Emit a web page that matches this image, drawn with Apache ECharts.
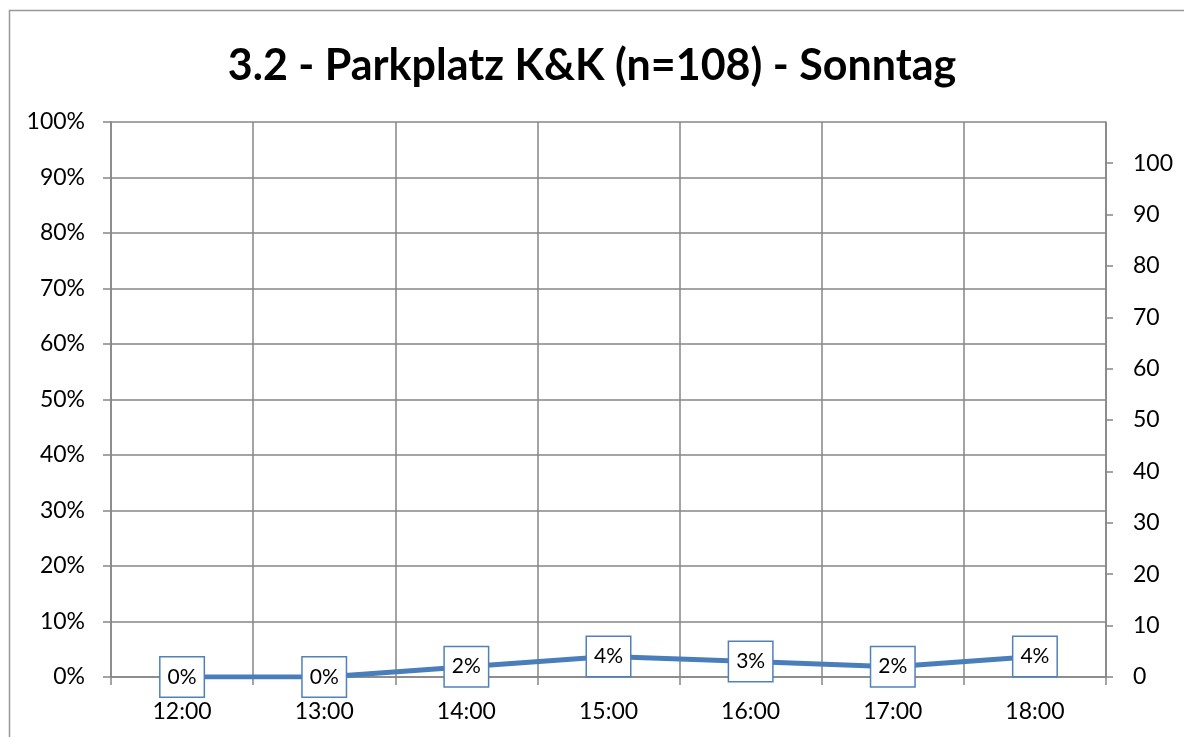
<!DOCTYPE html>
<html>
<head>
<meta charset="utf-8">
<script src="https://cdn.jsdelivr.net/npm/echarts@6/dist/echarts.min.js"></script>
<style>
  html, body { margin: 0; padding: 0; background: #fff; }
  #chart { width: 1184px; height: 737px; }
</style>
</head>
<body>
<div id="chart"></div>
<script>
// Daten
var hours = ['12:00', '13:00', '14:00', '15:00', '16:00', '17:00', '18:00'];
var counts = [0, 0, 2, 4, 3, 2, 4];   // belegte Plätze, n = 108
var total = 108;
var rightTicks = [0, 10, 20, 30, 40, 50, 60, 70, 80, 90, 100];

var gridColor = '#868686';
var font = 'Lato, "Open Sans", sans-serif';

var myChart = echarts.init(document.getElementById('chart'));

var option = {
    animation: false,
    title: {
        text: '3.2 - Parkplatz K&K (n=108) - Sonntag',
        left: 'center',
        top: 40,
        textStyle: { fontFamily: font, fontSize: 43, fontWeight: 'bold', color: '#000' }
    },
    graphic: [{
        type: 'rect',
        shape: { x: 9.5, y: 10.5, width: 1200, height: 760 },
        style: { fill: 'none', stroke: '#999', lineWidth: 1.5 },
        silent: true
    }],
    grid: { left: 111, right: 78, top: 122, bottom: 60 },
    xAxis: {
        type: 'category',
        data: hours,
        boundaryGap: true,
        axisLine: { lineStyle: { color: gridColor, width: 1.5 } },
        axisTick: { show: true, length: 8, lineStyle: { color: gridColor, width: 1.5 } },
        splitLine: { show: true, lineStyle: { color: gridColor, width: 1.5 } },
        axisLabel: { fontFamily: font, fontSize: 23, color: '#000', margin: 23 }
    },
    yAxis: [
        {
            type: 'value',
            min: 0,
            max: 100,
            interval: 10,
            axisLine: { show: true, lineStyle: { color: gridColor, width: 1.5 } },
            axisTick: { show: true, length: 8, lineStyle: { color: gridColor, width: 1.5 } },
            splitLine: { show: true, lineStyle: { color: gridColor, width: 1.5 } },
            axisLabel: { fontFamily: font, fontSize: 23, color: '#000', margin: 26, formatter: '{value}%' }
        },
        {
            type: 'value',
            min: 0,
            max: total,
            position: 'right',
            axisLine: { show: true, lineStyle: { color: gridColor, width: 1.5 } },
            axisTick: { show: true, length: 7, customValues: rightTicks, lineStyle: { color: gridColor, width: 1.5 } },
            splitLine: { show: false },
            axisLabel: { fontFamily: font, fontSize: 23, color: '#000', margin: 27, customValues: rightTicks }
        }
    ],
    series: [{
        type: 'line',
        yAxisIndex: 1,
        data: counts,
        symbol: 'circle',
        symbolSize: 0,
        lineStyle: { color: '#4a7ebb', width: 5 },
        itemStyle: { color: '#4a7ebb' },
        label: {
            show: true,
            position: 'inside',
            formatter: function (p) { return Math.round(p.value / total * 100) + '%'; },
            fontFamily: font,
            fontSize: 21,
            color: '#000',
            backgroundColor: '#fff',
            borderColor: '#4f81bd',
            borderWidth: 1.5,
            padding: [10, 7, 8, 7]
        },
        z: 5
    }]
};

myChart.setOption(option);
window.onresize = myChart.resize;
</script>
</body>
</html>
